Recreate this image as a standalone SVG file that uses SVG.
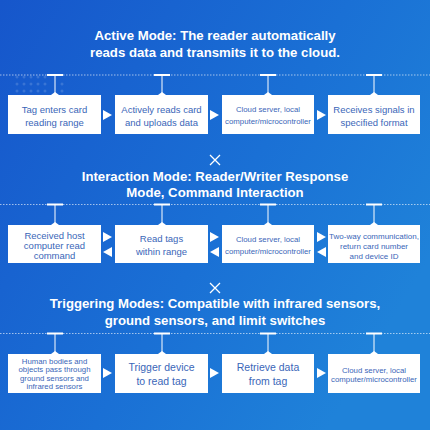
<svg xmlns="http://www.w3.org/2000/svg" width="430" height="430" viewBox="0 0 430 430">
<defs>
<linearGradient id="bg" x1="0" y1="0" x2="1" y2="0.6">
<stop offset="0" stop-color="#1656cb"/>
<stop offset="0.6" stop-color="#1a70d5"/>
<stop offset="1" stop-color="#1f82d9"/>
</linearGradient>
</defs>
<style>
.title{font-family:"Liberation Sans",Arial,sans-serif;font-weight:bold;font-size:13.2px;fill:#ffffff;text-anchor:middle}
.box{fill:#ffffff}
.t{font-family:"Liberation Sans",Arial,sans-serif;fill:#3a66b8;text-anchor:middle}
.dots{stroke:#ffffff;stroke-opacity:0.6;stroke-width:1;stroke-dasharray:1.5 1.5}
.bar{stroke:#ffffff;stroke-width:2}
.stem{stroke:#ffffff;stroke-width:1}
.arr{fill:#ffffff}
.x{stroke:#ffffff;stroke-width:1.3}
</style>
<rect width="430" height="430" fill="url(#bg)"/>
<g id="titles">
<text class="title" x="215" y="40">Active Mode: The reader automatically</text>
<text class="title" x="215" y="57">reads data and transmits it to the cloud.</text>
<path class="x" d="M210 155 L220 165 M220 155 L210 165"/>
<text class="title" x="215" y="181">Interaction Mode: Reader/Writer Response</text>
<text class="title" x="215" y="197">Mode, Command Interaction</text>
<path class="x" d="M210 283 L220 293 M220 283 L210 293"/>
<text class="title" x="215" y="308">Triggering Modes: Compatible with infrared sensors,</text>
<text class="title" x="215" y="325">ground sensors, and limit switches</text>
</g>
<g id="decor" fill="#ffffff" fill-opacity="0.15">
<circle cx="17" cy="77" r="1.5"/><circle cx="24" cy="77" r="1.5"/><circle cx="31" cy="77" r="1.5"/><circle cx="38" cy="77" r="1.5"/><circle cx="45" cy="77" r="1.5"/>
<circle cx="17" cy="84" r="1.5"/><circle cx="24" cy="84" r="1.5"/><circle cx="31" cy="84" r="1.5"/><circle cx="38" cy="84" r="1.5"/><circle cx="45" cy="84" r="1.5"/><circle cx="62" cy="84" r="1.5"/>
<circle cx="17" cy="91" r="1.5"/><circle cx="24" cy="91" r="1.5"/><circle cx="31" cy="91" r="1.5"/><circle cx="38" cy="91" r="1.5"/><circle cx="45" cy="91" r="1.5"/><circle cx="62" cy="91" r="1.5"/>
</g>
<g id="connectors">
<line class="dots" x1="0" y1="75" x2="430" y2="75"/>
<line class="dots" x1="0" y1="204.5" x2="430" y2="204.5"/>
<line class="dots" x1="0" y1="333.5" x2="430" y2="333.5"/>
<g id="stems1">
<line class="bar" x1="47" y1="75" x2="63" y2="75"/><line class="stem" x1="55" y1="75" x2="55" y2="95"/>
<line class="bar" x1="154" y1="75" x2="170" y2="75"/><line class="stem" x1="162" y1="75" x2="162" y2="95"/>
<line class="bar" x1="260" y1="75" x2="276" y2="75"/><line class="stem" x1="268" y1="75" x2="268" y2="95"/>
<line class="bar" x1="366" y1="75" x2="382" y2="75"/><line class="stem" x1="374" y1="75" x2="374" y2="95"/>
</g>
<g id="stems2">
<line class="bar" x1="47" y1="204.5" x2="63" y2="204.5"/><line class="stem" x1="55" y1="204.5" x2="55" y2="225"/>
<line class="bar" x1="154" y1="204.5" x2="170" y2="204.5"/><line class="stem" x1="162" y1="204.5" x2="162" y2="225"/>
<line class="bar" x1="260" y1="204.5" x2="276" y2="204.5"/><line class="stem" x1="268" y1="204.5" x2="268" y2="225"/>
<line class="bar" x1="366" y1="204.5" x2="382" y2="204.5"/><line class="stem" x1="374" y1="204.5" x2="374" y2="225"/>
</g>
<g id="stems3">
<line class="bar" x1="47" y1="333.5" x2="63" y2="333.5"/><line class="stem" x1="55" y1="333.5" x2="55" y2="354"/>
<line class="bar" x1="154" y1="333.5" x2="170" y2="333.5"/><line class="stem" x1="162" y1="333.5" x2="162" y2="354"/>
<line class="bar" x1="260" y1="333.5" x2="276" y2="333.5"/><line class="stem" x1="268" y1="333.5" x2="268" y2="354"/>
<line class="bar" x1="366" y1="333.5" x2="382" y2="333.5"/><line class="stem" x1="374" y1="333.5" x2="374" y2="354"/>
</g>
<g id="arrows1">
<path class="arr" d="M103 110 L112 115 L103 120 Z"/>
<path class="arr" d="M210 110 L219 115 L210 120 Z"/>
<path class="arr" d="M317 110 L326 115 L317 120 Z"/>
</g>
<g id="arrows2">
<path class="arr" d="M103 232 L112 237 L103 242 Z"/><path class="arr" d="M112 247 L103 252 L112 257 Z"/>
<path class="arr" d="M210 232 L219 237 L210 242 Z"/><path class="arr" d="M219 247 L210 252 L219 257 Z"/>
<path class="arr" d="M317 232 L326 237 L317 242 Z"/><path class="arr" d="M326 247 L317 252 L326 257 Z"/>
</g>
<g id="arrows3">
<path class="arr" d="M103 368 L112 373 L103 378 Z"/>
<path class="arr" d="M210 368 L219 373 L210 378 Z"/>
<path class="arr" d="M317 368 L326 373 L317 378 Z"/>
</g>
</g>
<g id="n1a"><rect class="box" x="8" y="95" width="93" height="39"/><path class="box" d="M51 95 L55 92 L59 95 Z"/>
<text class="t" x="54.5" y="113" font-size="9.5">Tag enters card</text><text class="t" x="54.5" y="126" font-size="9.5">reading range</text></g>
<g id="n1b"><rect class="box" x="115" y="95" width="93" height="39"/><path class="box" d="M158 95 L162 92 L166 95 Z"/>
<text class="t" x="161.5" y="113" font-size="9.5">Actively reads card</text><text class="t" x="161.5" y="126" font-size="9.5">and uploads data</text></g>
<g id="n1c"><rect class="box" x="222" y="95" width="92" height="39"/><path class="box" d="M264 95 L268 92 L272 95 Z"/>
<text class="t" x="268" y="112" font-size="7.8">Cloud server, local</text><text class="t" x="268" y="124" font-size="7.8">computer/microcontroller</text></g>
<g id="n1d"><rect class="box" x="328" y="95" width="92" height="39"/><path class="box" d="M370 95 L374 92 L378 95 Z"/>
<text class="t" x="374" y="113" font-size="9.5">Receives signals in</text><text class="t" x="374" y="126" font-size="9.5">specified format</text></g>

<g id="n2a"><rect class="box" x="8" y="225" width="93" height="38"/><path class="box" d="M51 225 L55 222 L59 225 Z"/>
<text class="t" x="54.5" y="239" font-size="9.5">Received host</text><text class="t" x="54.5" y="249" font-size="9.5">computer read</text><text class="t" x="54.5" y="259" font-size="9.5">command</text></g>
<g id="n2b"><rect class="box" x="115" y="225" width="93" height="38"/><path class="box" d="M158 225 L162 222 L166 225 Z"/>
<text class="t" x="161.5" y="242" font-size="9.5">Read tags</text><text class="t" x="161.5" y="255" font-size="9.5">within range</text></g>
<g id="n2c"><rect class="box" x="222" y="225" width="92" height="38"/><path class="box" d="M264 225 L268 222 L272 225 Z"/>
<text class="t" x="268" y="242" font-size="7.8">Cloud server, local</text><text class="t" x="268" y="254" font-size="7.8">computer/microcontroller</text></g>
<g id="n2d"><rect class="box" x="328" y="225" width="92" height="38"/><path class="box" d="M370 225 L374 222 L378 225 Z"/>
<text class="t" x="374" y="239" font-size="8">Two-way communication,</text><text class="t" x="374" y="249" font-size="8">return card number</text><text class="t" x="374" y="259" font-size="8">and device ID</text></g>

<g id="n3a"><rect class="box" x="8" y="354" width="93" height="39"/><path class="box" d="M51 354 L55 351 L59 354 Z"/>
<text class="t" x="54.5" y="363.5" font-size="7.8">Human bodies and</text><text class="t" x="54.5" y="372" font-size="7.8">objects pass through</text><text class="t" x="54.5" y="380.5" font-size="7.8">ground sensors and</text><text class="t" x="54.5" y="389" font-size="7.8">infrared sensors</text></g>
<g id="n3b"><rect class="box" x="115" y="354" width="93" height="39"/><path class="box" d="M158 354 L162 351 L166 354 Z"/>
<text class="t" x="161.5" y="371" font-size="10.5">Trigger device</text><text class="t" x="161.5" y="385" font-size="10.5">to read tag</text></g>
<g id="n3c"><rect class="box" x="222" y="354" width="92" height="39"/><path class="box" d="M264 354 L268 351 L272 354 Z"/>
<text class="t" x="268" y="371" font-size="10.5">Retrieve data</text><text class="t" x="268" y="385" font-size="10.5">from tag</text></g>
<g id="n3d"><rect class="box" x="328" y="354" width="92" height="39"/><path class="box" d="M370 354 L374 351 L378 354 Z"/>
<text class="t" x="374" y="373" font-size="7.8">Cloud server, local</text><text class="t" x="374" y="382" font-size="7.8">computer/microcontroller</text></g>
</svg>
